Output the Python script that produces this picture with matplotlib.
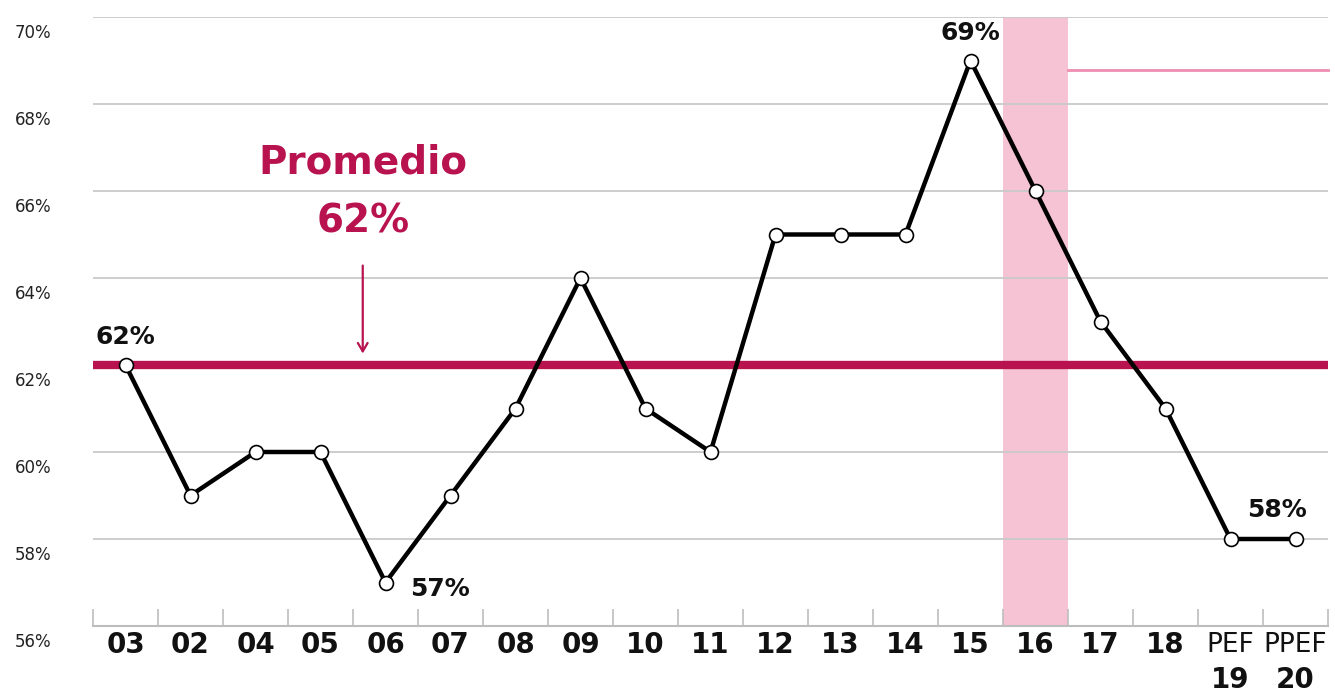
import matplotlib
matplotlib.use("Agg")
import matplotlib.pyplot as plt

CRIMSON = "#B8134F"
PINK = "#F5C3D3"

years = ["03", "02", "04", "05", "06", "07", "08", "09", "10", "11",
         "12", "13", "14", "15", "16", "17", "18", "19", "20"]
prefixes = ["", "", "", "", "", "", "", "", "", "", "", "", "", "", "", "", "", "PEF", "PPEF"]
values = [62, 59, 60, 60, 57, 59, 61, 64, 61, 60, 65, 65, 65, 69, 66, 63, 61, 58, 58]
average = 62
y_ticks = [56, 58, 60, 62, 64, 66, 68, 70]
highlight = "16"
top_right_level = 68.78

# value labels: index -> (text, dx px, dy px, ha)
labelled = {0: ("62%", 0, 28, "center"), 4: ("57%", 25, -6, "left"),
            13: ("69%", 0, 28, "center"), 18: ("58%", -19, 29, "center")}

fig = plt.figure(figsize=(13.35, 6.92), dpi=100)
ax = fig.add_axes([93 / 1335, 1 - 626 / 692, (1328 - 93) / 1335, (626 - 17) / 692])
x = list(range(len(years)))
ax.set_xlim(-0.5, len(years) - 0.5)
ax.set_ylim(56, 70)

# grid lines (hand drawn so labels can sit below them)
for t in y_ticks:
    if t > y_ticks[0]:
        ax.axhline(t, color="#c9c9c9", lw=1.3, zorder=1)
    ax.annotate(f"{t}%", xy=(0, t), xycoords=ax.get_yaxis_transform(),
                xytext=(-78, -16), textcoords="offset pixels", annotation_clip=False,
                ha="left", va="center", fontsize=12, color="#222222")

# highlighted year
hi = years.index(highlight)
ax.axvspan(hi - 0.5, hi + 0.5, color=PINK, lw=0, zorder=0)
ax.plot([hi + 0.5, len(years) - 0.5], [top_right_level] * 2, color="#EE8DB0",
        lw=2, zorder=1, clip_on=False)

# average line
ax.axhline(average, color=CRIMSON, lw=6, zorder=2)
ax.annotate("", xy=(3.65, 62.2), xytext=(3.65, 64.35),
            arrowprops=dict(arrowstyle="->,head_length=0.6,head_width=0.35",
                            color=CRIMSON, lw=1.6))
ax.text(3.65, 66.65, "Promedio", color=CRIMSON, fontsize=28, fontweight="bold",
        ha="center", va="center")
ax.text(3.65, 65.3, f"{average}%", color=CRIMSON, fontsize=28, fontweight="bold",
        ha="center", va="center")

# series
ax.plot(x, values, color="black", lw=3.2, zorder=3, solid_joinstyle="miter",
        marker="o", markersize=10, markerfacecolor="white",
        markeredgecolor="black", markeredgewidth=1.2)

for i, (txt, dx, dy, ha) in labelled.items():
    ax.annotate(txt, xy=(i, values[i]), xytext=(dx, dy), textcoords="offset pixels",
                ha=ha, va="center", fontsize=18, fontweight="bold", color="#111111")

# x axis
for s in ["top", "right", "left"]:
    ax.spines[s].set_visible(False)
ax.spines["bottom"].set_color("#bdbdbd")
ax.spines["bottom"].set_linewidth(1.5)
ax.set_yticks([])
ax.set_xticks([i - 0.5 for i in range(len(years) + 1)])
ax.set_xticklabels([])
ax.tick_params(axis="x", direction="in", length=12, width=1.2, color="#bdbdbd")

for i, (yr, pre) in enumerate(zip(years, prefixes)):
    if pre:
        ax.annotate(pre, xy=(i, 0), xycoords=ax.get_xaxis_transform(),
                    xytext=(0, -19), textcoords="offset pixels", ha="center",
                    va="center", fontsize=19, family=["Liberation Sans Narrow", "DejaVu Sans"],
                    color="#111111")
        ax.annotate(yr, xy=(i, 0), xycoords=ax.get_xaxis_transform(),
                    xytext=(0, -54), textcoords="offset pixels", ha="center",
                    va="center", fontsize=20, fontweight="bold", color="#111111")
    else:
        ax.annotate(yr, xy=(i, 0), xycoords=ax.get_xaxis_transform(),
                    xytext=(0, -19), textcoords="offset pixels", ha="center",
                    va="center", fontsize=20, fontweight="bold", color="#111111")

fig.savefig("out.png", dpi=100)
